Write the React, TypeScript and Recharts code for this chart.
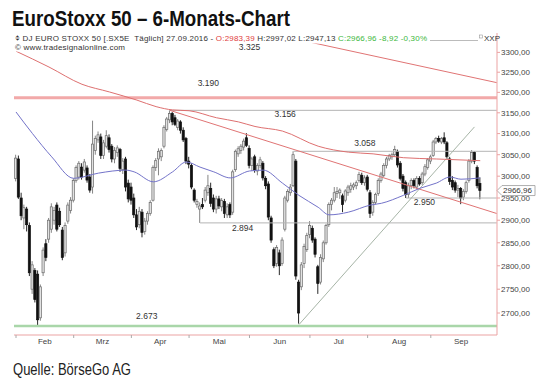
import React from "react";
import {
  Bar,
  ComposedChart,
  Line,
  ReferenceDot,
  ReferenceLine,
  XAxis,
  YAxis,
} from "recharts";

// trading days per month (Feb - Sep 2016)
const MONTHS = ["Feb", "Mrz", "Apr", "Mai", "Jun", "Jul", "Aug", "Sep"];
const MONTH_NUM = [2, 3, 4, 5, 6, 7, 8, 9];
const TRADING_DAYS = [
  [1, 2, 3, 4, 5, 8, 9, 10, 11, 12, 15, 16, 17, 18, 19, 22, 23, 24, 25, 26, 29],
  [1, 2, 3, 4, 7, 8, 9, 10, 11, 14, 15, 16, 17, 18, 21, 22, 23, 24, 29, 30, 31],
  [1, 4, 5, 6, 7, 8, 11, 12, 13, 14, 15, 18, 19, 20, 21, 22, 25, 26, 27, 28, 29],
  [2, 3, 4, 5, 6, 9, 10, 11, 12, 13, 16, 17, 18, 19, 20, 23, 24, 25, 26, 27, 30, 31],
  [1, 2, 3, 6, 7, 8, 9, 10, 13, 14, 15, 16, 17, 20, 21, 22, 23, 24, 27, 28, 29, 30],
  [1, 4, 5, 6, 7, 8, 11, 12, 13, 14, 15, 18, 19, 20, 21, 22, 25, 26, 27, 28, 29],
  [1, 2, 3, 4, 5, 8, 9, 10, 11, 12, 15, 16, 17, 18, 19, 22, 23, 24, 25, 26, 29, 30, 31],
  [1, 2, 5, 6, 7, 8, 9, 12, 13, 14, 15, 16, 19, 20, 21, 22, 23, 26, 27],
];
// trading days in the whole month (for centring the month label)
const MONTH_LEN = [21, 21, 21, 22, 22, 21, 23, 22];

const OPEN = [
  2995, 3040, 2950, 2905, 2925, 2888, 2750, 2790, 2782, 2690, 2785, 2848, 2858, 2880, 2900, 2934, 2920, 2878, 2828, 2898, 2922,
  2945, 2990, 2998, 3021, 3014, 3019, 2998, 2975, 3060, 3085, 3092, 3048, 3070, 3090, 3070, 3040, 3055, 3062, 3015, 3040, 2984,
  2975, 2950, 2912, 2890, 2918, 2875, 2898, 2915, 2945, 3020, 3040, 3045, 3070, 3110, 3133, 3148, 3138, 3115, 3128, 3108, 3088,
  3035, 3025, 2968, 2935, 2925, 2935, 2945, 2962, 2972, 2950, 2925, 2948, 2930, 2942, 2912, 2935, 2918, 3015, 3052, 3060, 3068, 3090,
  3065, 3025, 3045, 3012, 3025, 3030, 2995, 2982, 2905, 2835, 2805, 2828, 2805, 2880, 2945, 2962, 2978, 3035, 2765, 2755, 2805, 2835,
  2868, 2882, 2858, 2798, 2765, 2815, 2850, 2890, 2935, 2945, 2960, 2962, 2955, 2945, 2962, 2970, 2975, 2978, 2990, 3002, 2985,
  2998, 2962, 2918, 2940, 2960, 2990, 3002, 3025, 3040, 3045, 3050, 3058, 3030, 3000, 2985, 2958, 2978, 2990, 2975, 2995, 2985, 3005, 3020,
  3035, 3048, 3080, 3088, 3080, 3090, 3078, 3040, 2990, 2985, 2968, 2972, 2952, 2965, 2990, 3035, 3055, 3020, 2983.39,
];
const HIGH = [
  3050, 3048, 2962, 2935, 2930, 2895, 2810, 2795, 2790, 2760, 2840, 2858, 2905, 2938, 2930, 2940, 2928, 2885, 2895, 2940, 2952,
  2995, 3025, 3035, 3030, 3040, 3025, 3005, 3131, 3095, 3105, 3100, 3085, 3108, 3098, 3075, 3068, 3072, 3066, 3042, 3045, 2992,
  2985, 2960, 2925, 2930, 2925, 2905, 2920, 2945, 3025, 3042, 3065, 3065, 3120, 3140, 3156, 3152, 3145, 3135, 3132, 3115, 3092,
  3045, 3030, 2972, 2948, 2940, 2950, 2975, 3003, 2985, 2958, 2955, 2955, 2950, 2948, 2938, 2940, 3015, 3062, 3070, 3075, 3088, 3101,
  3072, 3045, 3050, 3030, 3045, 3035, 3000, 2988, 2910, 2840, 2845, 2835, 2862, 2955, 2970, 2982, 3058, 3040, 2770, 2808, 2848, 2872,
  2898, 2888, 2862, 2802, 2825, 2855, 2892, 2940, 2950, 2975, 2975, 2972, 2960, 2970, 2980, 2985, 2985, 2990, 3010, 3008, 3002,
  3003, 2968, 2945, 2962, 2995, 3010, 3030, 3045, 3052, 3055, 3071, 3062, 3035, 3005, 2990, 2985, 2995, 2995, 3000, 3000, 3010, 3028, 3042,
  3050, 3085, 3092, 3095, 3092, 3103, 3082, 3045, 3000, 2990, 2980, 2975, 2970, 2990, 3040, 3061, 3058, 3025, 2997.02,
];
const LOW = [
  2988, 2948, 2900, 2880, 2875, 2778, 2740, 2722, 2673, 2684, 2778, 2810, 2850, 2872, 2890, 2875, 2885, 2812, 2820, 2892, 2915,
  2940, 2985, 2992, 2992, 3008, 2985, 2962, 2960, 3050, 3078, 3040, 3040, 3065, 3055, 3032, 3030, 3045, 3010, 3005, 2965, 2940,
  2935, 2905, 2878, 2882, 2862, 2868, 2890, 2910, 2942, 3012, 3002, 3035, 3065, 3105, 3125, 3120, 3118, 3108, 3100, 3080, 3028,
  3018, 2970, 2940, 2928, 2894, 2925, 2940, 2955, 2930, 2918, 2915, 2925, 2920, 2905, 2905, 2905, 2912, 3010, 3045, 3052, 3060, 3068,
  3018, 3012, 3008, 3002, 3018, 2990, 2970, 2900, 2850, 2795, 2798, 2780, 2800, 2875, 2940, 2955, 2975, 2770, 2678, 2748, 2795, 2830,
  2860, 2850, 2818, 2740, 2760, 2808, 2846, 2885, 2922, 2940, 2950, 2948, 2918, 2940, 2955, 2962, 2968, 2970, 2985, 2980, 2978,
  2965, 2905, 2910, 2935, 2955, 2985, 2998, 3018, 3035, 3038, 3045, 3020, 2990, 2965, 2950, 2950, 2970, 2972, 2970, 2978, 2980, 3000, 3015,
  3028, 3045, 3075, 3078, 3075, 3075, 3040, 2980, 2968, 2962, 2952, 2936, 2945, 2960, 2985, 3030, 3028, 2972, 2947.13,
];
const CLOSE = [
  3042, 2952, 2910, 2928, 2890, 2785, 2802, 2728, 2686, 2755, 2834, 2818, 2900, 2930, 2922, 2880, 2890, 2818, 2888, 2934, 2945,
  2990, 3020, 3030, 2998, 3033, 2991, 2968, 3075, 3088, 3097, 3048, 3078, 3095, 3062, 3040, 3060, 3066, 3018, 3035, 2975, 2948,
  2945, 2912, 2885, 2920, 2873, 2898, 2915, 2940, 3020, 3036, 3058, 3060, 3115, 3135, 3148, 3128, 3122, 3130, 3108, 3085, 3035,
  3028, 2975, 2945, 2942, 2932, 2930, 2968, 2978, 2938, 2925, 2948, 2932, 2944, 2915, 2930, 2912, 3010, 3058, 3064, 3070, 3082, 3072,
  3025, 3040, 3014, 3025, 3038, 2996, 2978, 2907, 2856, 2800, 2840, 2800, 2856, 2950, 2965, 2975, 3050, 2778, 2700, 2802, 2842, 2866,
  2888, 2856, 2825, 2762, 2818, 2850, 2888, 2935, 2945, 2962, 2965, 2968, 2935, 2966, 2975, 2978, 2980, 2985, 3004, 2985, 2996,
  2970, 2915, 2940, 2958, 2990, 3005, 3025, 3040, 3048, 3050, 3062, 3026, 2995, 2972, 2958, 2978, 2990, 2978, 2995, 2982, 3005, 3022, 3038,
  3045, 3080, 3088, 3082, 3088, 3080, 3045, 2988, 2975, 2968, 2972, 2950, 2965, 2985, 3035, 3055, 3035, 2978, 2966.96,
];

// moving averages, read at selected days
const BLUE_MA_IDX = [0, 6, 13, 21, 30, 40, 43, 50, 57, 62, 67, 72, 78, 85, 90, 97, 103, 110, 114, 121, 129, 133, 141, 147, 153, 158, 162, 169];
const BLUE_MA = [3152, 3100, 3045, 2995, 3007, 3014, 3010, 2987, 3010, 3033, 3021, 3010, 2996, 3012, 3014, 2984, 2956, 2929, 2912, 2918, 2934, 2938, 2956, 2972, 2984, 2998, 2993, 2996];
const RED_MA_IDX = [0, 12, 24, 34, 44, 51, 57, 63, 73, 81, 87, 97, 110, 121, 130, 141, 153, 169];
const RED_MA = [3303, 3263, 3220, 3201, 3181, 3165, 3157, 3155, 3138, 3128, 3117, 3106, 3070, 3056, 3052, 3043, 3040, 3036];

// levels and trend lines (day index, price)
const BAND_LEVEL = 3187;
const SUPPORT_LEVEL = 2673;
const H_LEVELS = [
  { from: 56, value: 3156 },
  { from: 101, value: 3058 },
  { from: 142, value: 2950 },
  { from: 67, value: 2894 },
];
const TREND_DOWN = [{ x: 56, y: 3156 }, { x: 175, y: 2915 }];
const TREND_TOP = [{ x: 92, y: 3349 }, { x: 175, y: 3224 }];
const TREND_UP = [{ x: 103, y: 2676 }, { x: 166.9, y: 3116 }];
const NOTES = [
  { x: 85, y: 3313, text: "3.325" },
  { x: 70, y: 3223, text: "3.190" },
  { x: 98, y: 3146, text: "3.156" },
  { x: 127, y: 3077, text: "3.058" },
  { x: 148.7, y: 2941, text: "2.950" },
  { x: 82.5, y: 2883, text: "2.894" },
  { x: 47.6, y: 2694, text: "2.673" },
];
const LAST_PRICE = 2966.96;
const Y_TICKS = [2700, 2750, 2800, 2850, 2900, 2950, 3000, 3050, 3100, 3150, 3200, 3250, 3300];

const X_MIN = -0.73;
const X_MAX = 175.1;
const Y_MIN = 2654.7;
const Y_MAX = 3349.6;
const PLOT_W = 483;
const PX_PER_DAY = PLOT_W / (X_MAX - X_MIN);

const FONT = "'Liberation Sans', Arial, sans-serif";
const NARROW = "'Liberation Sans Narrow', 'Liberation Sans', Arial, sans-serif";

const dates: string[] = [];
TRADING_DAYS.forEach((days, m) =>
  days.forEach((d) => dates.push(`${String(d).padStart(2, "0")}.${String(MONTH_NUM[m]).padStart(2, "0")}.2016`))
);

const MONTH_START: number[] = [];
TRADING_DAYS.reduce((acc, days) => {
  MONTH_START.push(acc);
  return acc + days.length;
}, 0);

const rows = dates.map((date, k) => {
  const o = OPEN[k];
  const c = CLOSE[k];
  const bi = BLUE_MA_IDX.indexOf(k);
  const ri = RED_MA_IDX.indexOf(k);
  return {
    i: k,
    date,
    o,
    c,
    wick: [LOW[k], HIGH[k]],
    body: [Math.min(o, c), Math.max(o, c)],
    blue: bi >= 0 ? BLUE_MA[bi] : null,
    red: ri >= 0 ? RED_MA[ri] : null,
  };
});

const Wick = (props: any) => {
  const { x, y, width, height, payload } = props;
  const cx = x + width / 2;
  const up = payload.c >= payload.o;
  const top = Math.min(y, y + height);
  return (
    <line x1={cx} x2={cx} y1={top} y2={top + Math.abs(height)} stroke={up ? "#777" : "#111"} strokeWidth={0.9} />
  );
};

const Body = (props: any) => {
  const { x, y, width, height, payload } = props;
  const cx = x + width / 2;
  const up = payload.c >= payload.o;
  const top = Math.min(y, y + height);
  const h = Math.max(Math.abs(height), 1);
  return (
    <rect
      x={cx - 1.1}
      y={top}
      width={2.2}
      height={h}
      fill={up ? "#e2e2e2" : "#111"}
      stroke={up ? "#6a6a6a" : "#111"}
      strokeWidth={0.7}
    />
  );
};

const MonthTick = (props: any) => {
  const { x, y, payload } = props;
  const m = MONTH_START.indexOf(payload.value);
  if (m < 0) return null;
  const lx = x + (MONTH_LEN[m] / 2) * PX_PER_DAY;
  return (
    <g>
      <line x1={x} x2={x} y1={y} y2={y + 3} stroke="#aaa" />
      <text x={lx} y={y + 9} textAnchor="middle" fontSize={8} fontFamily={FONT} fill="#444">
        {MONTHS[m]}
      </text>
    </g>
  );
};

const PriceTag = (props: any) => {
  const { viewBox } = props;
  const x = viewBox.x + viewBox.width;
  const y = viewBox.y;
  return (
    <g>
      <polygon
        points={`${x},${y} ${x + 5},${y - 5} ${x + 38},${y - 5} ${x + 38},${y + 5} ${x + 5},${y + 5}`}
        fill="#fff"
        stroke="#999"
        strokeWidth={0.8}
      />
      <text x={x + 6} y={y + 2.8} fontSize={8} fontFamily={FONT} fill="#333">
        {LAST_PRICE.toFixed(2).replace(".", ",")}
      </text>
    </g>
  );
};

export default function App() {
  return (
    <div style={{ position: "absolute", left: 0, top: 0, width: 540, height: 382, background: "#fff" }}>
      <ComposedChart width={540} height={382} data={rows} margin={{ top: 33, right: 0, bottom: 0, left: 14 }}>
        <XAxis
          xAxisId="main"
          dataKey="i"
          type="number"
          domain={[X_MIN, X_MAX]}
          allowDataOverflow
          ticks={MONTH_START}
          interval={0}
          tick={<MonthTick />}
          tickLine={false}
          tickSize={0}
          tickMargin={0}
          height={47}
          axisLine={{ stroke: "#eba3a3" }}
        />
        <XAxis xAxisId="wick" dataKey="i" type="number" domain={[X_MIN, X_MAX]} allowDataOverflow hide />
        <YAxis
          orientation="right"
          scale="log"
          type="number"
          domain={[Y_MIN, Y_MAX]}
          allowDataOverflow
          ticks={Y_TICKS}
          interval={0}
          width={43}
          tickSize={3}
          tickMargin={1}
          axisLine={{ stroke: "#eba3a3" }}
          tickLine={{ stroke: "#eba3a3" }}
          tick={{ fontSize: 8, fill: "#444", fontFamily: FONT }}
          tickFormatter={(v: number) => v.toFixed(2).replace(".", ",")}
        />

        <ReferenceLine xAxisId="main" y={BAND_LEVEL} stroke="#f2a9a9" strokeWidth={3} />
        <ReferenceLine xAxisId="main" y={SUPPORT_LEVEL} stroke="#a9d6a9" strokeWidth={2.5} />
        {H_LEVELS.map((h) => (
          <ReferenceLine
            key={h.value}
            xAxisId="main"
            segment={[{ x: h.from, y: h.value }, { x: 175, y: h.value }]}
            stroke="#b4b4b4"
            strokeWidth={1}
          />
        ))}
        <ReferenceLine xAxisId="main" segment={TREND_DOWN} stroke="#e07474" strokeWidth={1} ifOverflow="hidden" />
        <ReferenceLine xAxisId="main" segment={TREND_TOP} stroke="#e07474" strokeWidth={1} ifOverflow="hidden" />
        <ReferenceLine xAxisId="main" segment={TREND_UP} stroke="#a6b4a6" strokeWidth={1} ifOverflow="hidden" />

        <Line
          xAxisId="main"
          dataKey="red"
          type="monotone"
          stroke="#de7070"
          strokeWidth={1}
          dot={false}
          connectNulls
          isAnimationActive={false}
        />
        <Line
          xAxisId="main"
          dataKey="blue"
          type="monotone"
          stroke="#7373c9"
          strokeWidth={1}
          dot={false}
          connectNulls
          isAnimationActive={false}
        />

        <Bar xAxisId="wick" dataKey="wick" barSize={2} shape={<Wick />} isAnimationActive={false} />
        <Bar xAxisId="main" dataKey="body" barSize={2} shape={<Body />} isAnimationActive={false} />

        {NOTES.map((n) => (
          <ReferenceDot
            key={n.text}
            xAxisId="main"
            x={n.x}
            y={n.y}
            r={0}
            fill="none"
            stroke="none"
            ifOverflow="visible"
            label={{ value: n.text, position: "center", fontSize: 8.5, fill: "#333", fontFamily: FONT }}
          />
        ))}
        <ReferenceLine xAxisId="main" y={LAST_PRICE} strokeOpacity={0} label={<PriceTag />} />
      </ComposedChart>

      <svg
        width={540}
        height={382}
        style={{ position: "absolute", left: 0, top: 0, pointerEvents: "none" }}
      >
        <text
          x={12}
          y={26}
          fontFamily={NARROW}
          fontWeight="bold"
          fontSize={21.5}
          fill="#111"
          textLength={278}
          lengthAdjust="spacingAndGlyphs"
        >
          EuroStoxx 50 – 6-Monats-Chart
        </text>

        <rect x={14} y={33} width={416} height={10.5} fill="#fff" />
        <text x={15} y={41} fontFamily={FONT} fontSize={8} fill="#333" textLength={412} style={{ whiteSpace: "pre" }}>
          <tspan>{"⌽ DJ EURO STOXX 50 [.SX5E  Täglich] 27.09.2016 - "}</tspan>
          <tspan fill="#e03c3c">O:2983,39</tspan>
          <tspan>{" H:2997,02 L:2947,13 "}</tspan>
          <tspan fill="#3cb83c">C:2966,96 -8,92 -0,30%</tspan>
        </text>
        <line x1={430} x2={478} y1={40.5} y2={40.5} stroke="#aaa" strokeWidth={0.8} />
        <rect x={479.5} y={35} width={3} height={3} fill="none" stroke="#999" strokeWidth={0.6} />
        <text x={484} y={41} fontFamily={FONT} fontSize={8} fill="#333">
          XXP
        </text>

        <rect x={14} y={43.5} width={114} height={8} fill="#fff" />
        <text x={15} y={50} fontFamily={FONT} fontSize={8} fill="#333" textLength={110}>
          © www.tradesignalonline.com
        </text>

        <text
          x={13}
          y={375}
          fontFamily={NARROW}
          fontSize={17}
          fill="#222"
          textLength={118}
          lengthAdjust="spacingAndGlyphs"
        >
          Quelle: BörseGo AG
        </text>
      </svg>
    </div>
  );
}
